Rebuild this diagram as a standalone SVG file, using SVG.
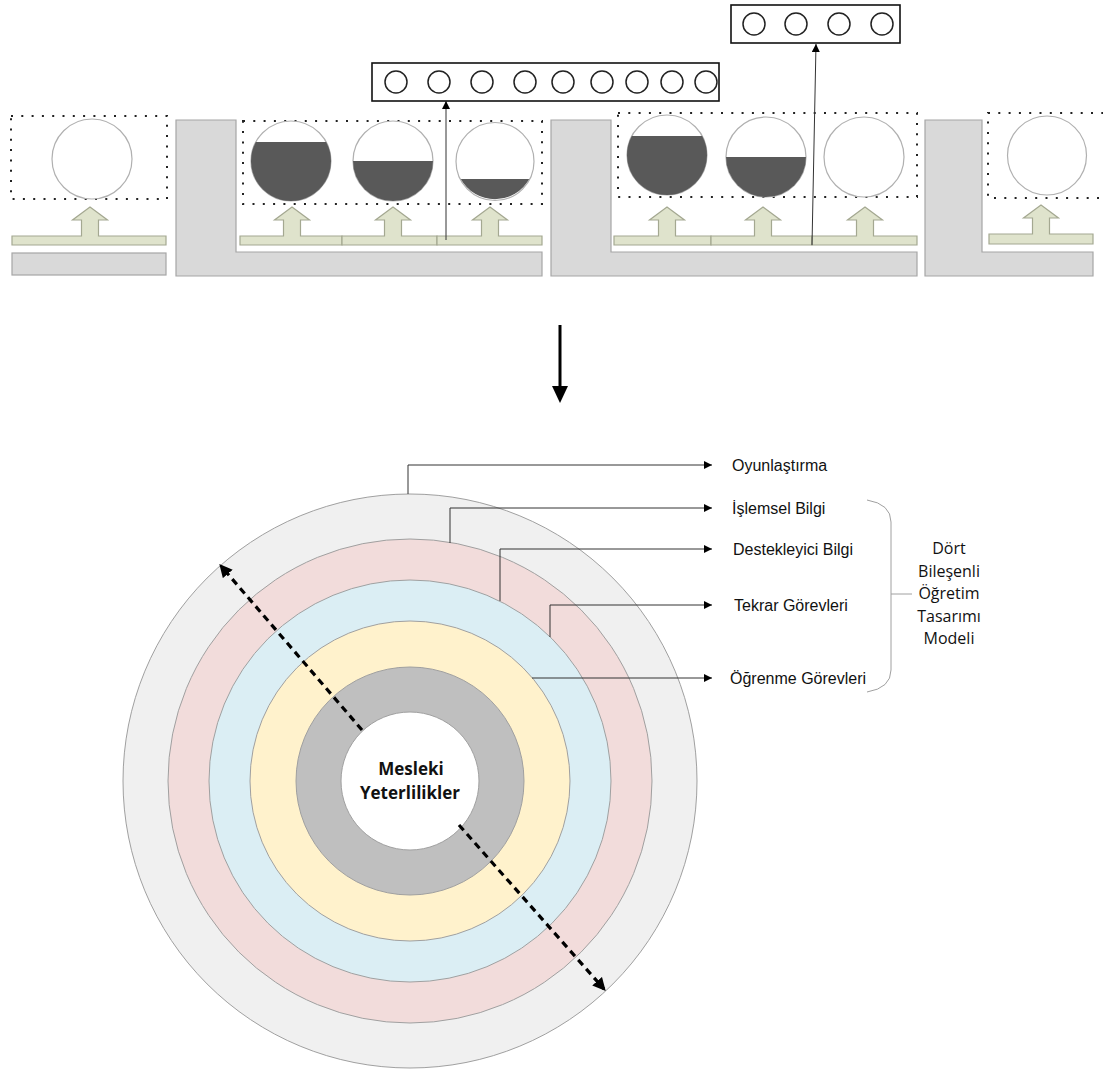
<svg xmlns="http://www.w3.org/2000/svg" width="1103" height="1073" viewBox="0 0 1103 1073">
  <style>
    .wall { fill: #d9d9d9; stroke: #a6a6a6; stroke-width: 1.2; }
    .dots { fill: none; stroke: #222; stroke-width: 2; stroke-dasharray: 2 8.3; }
    .tank { fill: #ffffff; stroke: #b0b0b0; stroke-width: 1.2; }
    .level { fill: #595959; }
    .lift { fill: #dfe3cc; stroke: #a4a891; stroke-width: 1.2; }
    .box { fill: #ffffff; stroke: #111; stroke-width: 1.6; }
    .slot { fill: #ffffff; stroke: #222; stroke-width: 1.5; }
    .link { fill: none; stroke: #333; stroke-width: 1; }
    .ring { stroke: #a0a0a0; stroke-width: 1; }
    .lbl { font-family: "Liberation Sans", Arial, sans-serif; font-size: 16px; fill: #111; }
    .model { font-family: "Open Sans", "Liberation Sans", sans-serif; font-size: 16px; fill: #111; text-anchor: middle; }
    .core { font-family: "Open Sans", "Liberation Sans", sans-serif; font-size: 17px; font-weight: 700; fill: #111; text-anchor: middle; }
    .dash { fill: none; stroke: #000; stroke-width: 3.2; stroke-dasharray: 7 5; }
  </style>
  <defs>
    <marker id="tipSmall" viewBox="0 0 10 10" refX="10" refY="5" markerWidth="8" markerHeight="8" markerUnits="userSpaceOnUse" orient="auto">
      <path d="M0,0 L10,5 L0,10 Z" fill="#000"/>
    </marker>
    <marker id="tipBold" viewBox="0 0 10 10" refX="8" refY="5" markerWidth="13" markerHeight="13" markerUnits="userSpaceOnUse" orient="auto">
      <path d="M0,0 L10,5 L0,10 Z" fill="#000"/>
    </marker>
  </defs>

  <!-- upper strip: four stations -->
  <g id="station-1">
    <rect class="dots" x="11" y="116" width="156" height="83"/>
    <circle class="tank" cx="92" cy="159" r="40"/>
    <path class="lift" d="M12,236 L81.5,236 L81.5,220 L72.5,220 L90,207 L107.5,220 L98.5,220 L98.5,236 L166,236 L166,245 L12,245 Z"/>
    <rect class="wall" x="12" y="253" width="154" height="22"/>
  </g>

  <g id="station-2">
    <path class="wall" d="M176,120 L236,120 L236,252 L542,252 L542,276 L176,276 Z"/>
    <rect class="dots" x="243" y="121" width="299" height="83"/>
    <circle class="tank" cx="291" cy="161" r="40"/>
    <path class="level" d="M255.8,142 A40,40 0 1 0 326.2,142 Z"/>
    <circle class="tank" cx="393" cy="161" r="40"/>
    <path class="level" d="M353,161 A40,40 0 0 0 433,161 Z"/>
    <circle class="tank" cx="495" cy="161.5" r="39"/>
    <path class="level" d="M460.8,179 A39,39 0 0 0 529.2,179 Z"/>
    <path class="lift" d="M240,236 L283.5,236 L283.5,220 L274.5,220 L292,207 L309.5,220 L300.5,220 L300.5,236 L342,236 L342,245 L240,245 Z"/>
    <path class="lift" d="M342,236 L384.5,236 L384.5,220 L375.5,220 L393,207 L410.5,220 L401.5,220 L401.5,236 L437,236 L437,245 L342,245 Z"/>
    <path class="lift" d="M437,236 L481.5,236 L481.5,220 L472.5,220 L490,207 L507.5,220 L498.5,220 L498.5,236 L542,236 L542,245 L437,245 Z"/>
  </g>

  <g id="station-3">
    <path class="wall" d="M551,120 L611,120 L611,252 L917,252 L917,276 L551,276 Z"/>
    <rect class="dots" x="618" y="113" width="299" height="84"/>
    <circle class="tank" cx="667" cy="155" r="40"/>
    <path class="level" d="M631.8,136 A40,40 0 1 0 702.2,136 Z"/>
    <circle class="tank" cx="766" cy="157" r="40"/>
    <path class="level" d="M726,157 A40,40 0 0 0 806,157 Z"/>
    <circle class="tank" cx="864" cy="157" r="40"/>
    <path class="lift" d="M614,236 L658.5,236 L658.5,220 L649.5,220 L667,207 L684.5,220 L675.5,220 L675.5,236 L711,236 L711,245 L614,245 Z"/>
    <path class="lift" d="M711,236 L754.5,236 L754.5,220 L745.5,220 L763,207 L780.5,220 L771.5,220 L771.5,236 L812,236 L812,245 L711,245 Z"/>
    <path class="lift" d="M812,236 L856.5,236 L856.5,220 L847.5,220 L865,207 L882.5,220 L873.5,220 L873.5,236 L917,236 L917,245 L812,245 Z"/>
  </g>

  <g id="station-4">
    <path class="wall" d="M925,120 L982,120 L982,252 L1093,252 L1093,276 L925,276 Z"/>
    <rect class="dots" x="988" y="113" width="116" height="85"/>
    <circle class="tank" cx="1047" cy="155.5" r="39.5"/>
    <path class="lift" d="M989,234 L1032.5,234 L1032.5,218 L1023.5,218 L1041,205 L1058.5,218 L1049.5,218 L1049.5,234 L1093,234 L1093,244 L989,244 Z"/>
  </g>

  <g id="queue-9">
    <rect class="box" x="372" y="63" width="347" height="38"/>
    <circle class="slot" cx="396" cy="82" r="11"/>
    <circle class="slot" cx="439" cy="82" r="11"/>
    <circle class="slot" cx="482" cy="82" r="11"/>
    <circle class="slot" cx="525" cy="82" r="11"/>
    <circle class="slot" cx="563" cy="82" r="11"/>
    <circle class="slot" cx="602" cy="82" r="11"/>
    <circle class="slot" cx="637" cy="82" r="11"/>
    <circle class="slot" cx="672" cy="82" r="11"/>
    <circle class="slot" cx="706" cy="82" r="11"/>
  </g>

  <g id="queue-4">
    <rect class="box" x="731" y="5" width="169" height="38"/>
    <circle class="slot" cx="754" cy="24" r="11"/>
    <circle class="slot" cx="796" cy="24" r="11"/>
    <circle class="slot" cx="839" cy="24" r="11"/>
    <circle class="slot" cx="882" cy="24" r="11"/>
  </g>

  <!-- lower part: nested rings -->
  <g id="rings">
    <circle class="ring" cx="410" cy="781" r="287" fill="#f0f0f0"/>
    <circle class="ring" cx="410" cy="781" r="242" fill="#f2dcdb"/>
    <circle class="ring" cx="410" cy="781" r="201" fill="#dbeef4"/>
    <circle class="ring" cx="410" cy="781" r="160" fill="#fff2cc"/>
    <circle class="ring" cx="410" cy="781" r="114" fill="#bfbfbf"/>
    <circle class="ring" cx="410" cy="781" r="69" fill="#ffffff"/>
  </g>

  <g id="core-label">
    <text class="core" x="411" y="775">Mesleki</text>
    <text class="core" x="410" y="799">Yeterlilikler</text>
  </g>

  <g id="labels">
    <text class="lbl" x="732" y="471">Oyunlaştırma</text>
    <text class="lbl" x="732" y="514">İşlemsel Bilgi</text>
    <text class="lbl" x="733" y="555">Destekleyici Bilgi</text>
    <text class="lbl" x="734" y="611">Tekrar Görevleri</text>
    <text class="lbl" x="730" y="684">Öğrenme Görevleri</text>
  </g>

  <g id="model-label">
    <path class="link" stroke="#a0a0a0" d="M867,500 Q891,504 891,522 L891,670 Q891,688 867,692 M891,594 L912,594" style="stroke:#a0a0a0"/>
    <text class="model" x="949" y="554">Dört</text>
    <text class="model" x="949" y="577">Bileşenli</text>
    <text class="model" x="949" y="599">Öğretim</text>
    <text class="model" x="949" y="622">Tasarımı</text>
    <text class="model" x="949" y="644">Modeli</text>
  </g>

  <g id="connectors">
    <line class="link" x1="446" y1="240" x2="446" y2="101" marker-end="url(#tipSmall)"/>
    <line class="link" x1="812" y1="245" x2="816" y2="44" marker-end="url(#tipSmall)"/>
    <line x1="560" y1="325" x2="560" y2="390" stroke="#000" stroke-width="3"/>
    <path d="M552,386 L568,386 L560,403 Z" fill="#000"/>
    <polyline class="link" points="408,494 408,465 712,465" marker-end="url(#tipSmall)"/>
    <polyline class="link" points="450,543 450,508 712,508" marker-end="url(#tipSmall)"/>
    <polyline class="link" points="500,601 500,549 712,549" marker-end="url(#tipSmall)"/>
    <polyline class="link" points="550,637 550,605 712,605" marker-end="url(#tipSmall)"/>
    <polyline class="link" points="532,678 712,678" marker-end="url(#tipSmall)"/>
    <line class="dash" x1="362" y1="730" x2="221" y2="566" marker-end="url(#tipBold)"/>
    <line class="dash" x1="459" y1="825" x2="604" y2="989" marker-end="url(#tipBold)"/>
  </g>
</svg>
